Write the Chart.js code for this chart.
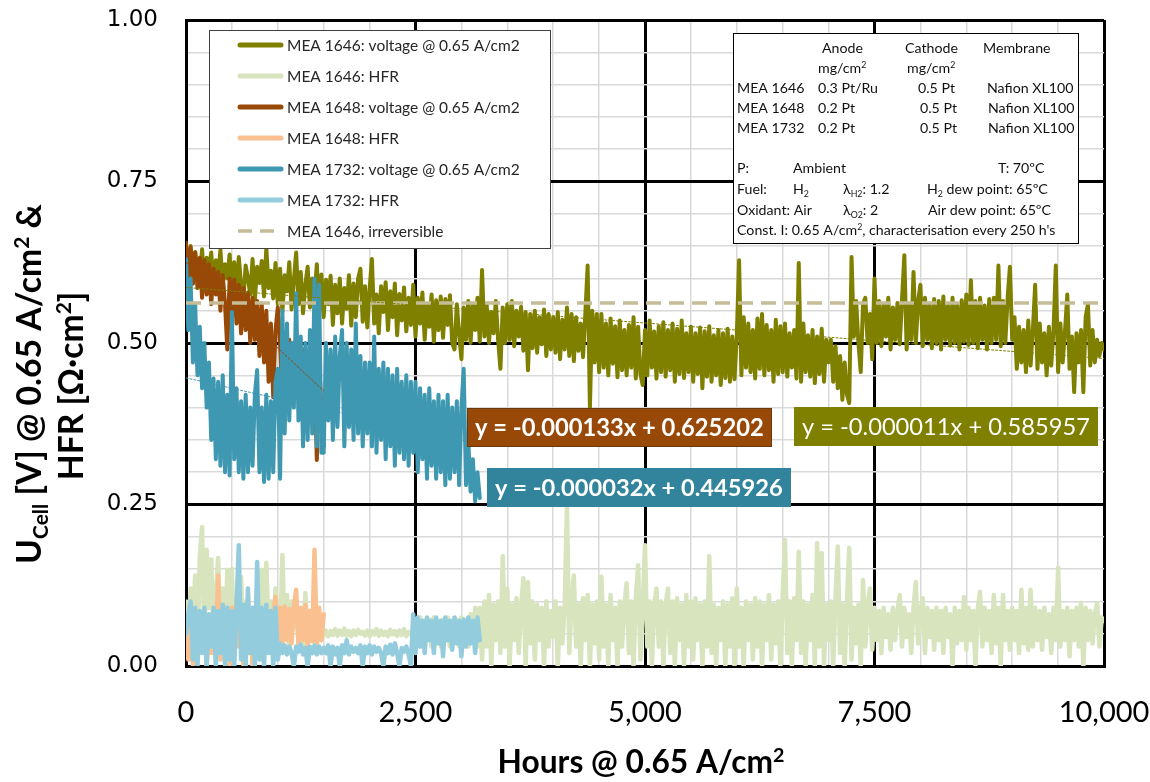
<!DOCTYPE html>
<html>
<head>
<meta charset="utf-8">
<script src="https://cdn.jsdelivr.net/npm/chart.js@4.4.1/dist/chart.umd.min.js"></script>
<style>
  html, body { margin: 0; padding: 0; background: #ffffff; }
  #wrap { position: relative; width: 1150px; height: 782px; }
  canvas { display: block; }
</style>
</head>
<body>
<div id="wrap"><canvas id="chart" width="1150" height="782"></canvas></div>
<script>
// ---- Durability log: one reading every LOG_STEP_H hours, starting at 0 h ----
const LOG_STEP_H = 25;

// MEA 1646 cell voltage [mV], 0 - 10000 h
const mea1646VoltageMv = [
  630,600,650,592,641,610,598,645,588,632,615,640,586,628,603,644,590,622,600,637,
  580,625,572,633,590,568,620,600,575,630,566,618,593,627,572,647,585,612,569,624,
  560,615,548,605,580,625,552,598,640,560,610,546,590,618,555,600,571,622,548,606,
  540,598,560,604,528,590,546,600,530,585,553,605,527,592,540,600,615,533,588,524,
  583,630,530,575,515,588,548,594,520,580,540,592,512,576,535,586,518,570,528,590,
  510,570,530,578,505,560,525,575,502,566,520,572,508,568,528,574,500,490,560,515,
  475,555,505,565,500,560,520,570,502,613,510,560,500,548,515,565,505,460,555,500,
  560,505,565,495,550,510,556,488,548,458,545,492,550,485,540,498,552,480,545,490,
  540,485,548,475,536,490,555,480,545,472,540,488,530,478,545,620,400,550,470,545,
  455,545,462,530,450,538,468,526,447,535,458,520,450,528,462,540,445,525,452,435,
  520,450,535,462,518,445,526,455,532,448,520,458,530,440,522,452,535,446,515,455,
  525,440,515,452,524,430,518,448,526,440,512,450,520,435,515,446,522,440,510,444,
  512,628,450,540,462,530,455,520,445,538,460,545,450,528,458,520,440,536,452,526,
  455,530,448,515,462,520,445,624,440,530,455,512,448,520,438,510,452,522,440,505,
  470,505,440,495,430,480,412,470,420,407,633,510,565,500,455,560,570,500,545,475,
  600,500,565,495,560,510,570,490,555,505,562,498,568,636,490,560,505,610,500,565,
  590,495,570,505,560,492,568,500,565,490,572,505,558,496,570,500,560,490,566,502,
  575,497,597,500,565,492,570,505,558,490,568,500,570,505,620,495,565,500,570,618,
  505,540,460,525,470,520,455,535,465,520,590,460,530,470,515,450,525,465,520,620,
  455,530,470,518,575,460,510,424,515,470,520,424,540,560,465,520,470,505,480,500,
  490
];

// MEA 1646 high-frequency resistance [mOhm cm2], 0 - 10000 h
const mea1646HfrMohm = [
  100,30,120,60,140,20,170,215,40,180,90,165,30,110,167,50,120,20,149,60,
  150,30,110,50,138,20,100,40,90,60,80,30,110,149,40,160,50,100,30,120,
  60,40,172,50,110,30,100,60,90,40,80,30,113,50,70,45,80,50,60,52,
  47,55,46,54,48,57,47,55,48,58,47,54,46,55,48,56,50,53,47,55,
  46,54,49,57,47,55,48,53,46,56,49,54,47,55,48,57,46,53,49,55,
  70,40,75,30,70,50,72,30,75,45,70,30,72,50,75,30,70,45,72,30,
  75,40,70,30,80,45,90,30,
  90,10,100,30,110,0,95,40,100,20,170,30,120,0,95,40,105,20,90,136,
  0,130,35,100,10,95,40,90,0,100,30,85,45,100,0,90,35,95,246,20,
  100,140,30,95,0,105,40,110,0,95,35,100,10,138,30,95,0,110,40,90,
  0,100,30,95,128,20,100,0,105,156,10,90,187,30,100,0,95,120,30,100,
  0,95,120,20,100,0,105,40,95,0,110,30,100,10,105,40,95,0,100,30,
  170,20,95,0,90,40,100,0,95,30,105,0,120,30,90,0,100,40,95,10,
  105,30,100,0,95,40,110,10,95,35,100,0,110,195,20,100,0,105,40,177,
  20,100,0,95,40,110,0,190,30,175,0,95,40,100,0,105,185,20,95,0,
  100,183,10,90,35,95,0,133,30,95,120,25,90,40,85,20,90,45,80,25,
  90,40,85,110,30,90,45,80,20,90,130,35,85,105,20,90,45,85,25,90,
  40,85,20,90,45,80,0,90,35,85,40,107,25,90,40,85,0,90,115,30,
  90,40,85,20,110,35,90,0,110,40,85,25,90,40,85,20,118,35,90,25,
  118,30,90,40,85,25,90,45,80,20,90,40,152,30,85,40,90,15,85,40,
  90,30,98,0,90,40,85,35,80,97,30,75,70
];

// MEA 1648 cell voltage [mV], 0 - 1500 h
const mea1648VoltageMv = [
  655,600,648,592,640,585,632,570,628,575,622,560,615,575,610,550,605,560,490,600,
  540,598,530,590,515,585,520,578,500,570,505,565,480,560,470,550,440,530,416,520,
  555,500,405,515,450,505,430,500,440,495,425,490,445,485,420,480,470,319,470,400,
  340
];

// MEA 1648 high-frequency resistance [mOhm cm2], 0 - 1500 h
const mea1648HfrMohm = [
  50,10,70,0,60,20,80,30,65,0,75,20,80,20,140,10,90,30,85,0,
  90,10,105,30,80,0,90,20,75,0,90,30,80,10,85,40,70,20,80,107,
  40,90,35,92,40,88,35,92,118,30,90,40,95,30,85,38,180,30,90,40,
  80
];

// MEA 1732 cell voltage [mV], 0 - 3200 h
const mea1732VoltageMv = [
  630,520,600,470,560,450,525,430,500,400,470,350,445,320,440,310,450,300,420,295,
  548,320,430,300,410,290,420,300,400,310,420,458,300,400,285,420,290,410,300,440,
  460,290,550,360,530,380,500,400,577,380,510,340,500,350,520,360,600,340,590,330,
  330,500,380,490,350,510,370,480,520,340,500,370,490,350,530,360,480,340,470,360,
  470,340,510,330,460,350,470,320,460,340,450,310,460,330,440,320,450,310,440,330,
  440,300,430,320,420,290,430,310,410,290,420,300,410,280,420,290,400,300,410,280,
  400,460,280,350,270,320,255,300,260
];

// MEA 1732 high-frequency resistance [mOhm cm2], 0 - 3200 h
const mea1732HfrMohm = [
  50,80,100,10,90,0,85,20,90,0,80,30,90,0,85,20,95,0,90,10,
  85,0,90,187,10,95,0,120,20,90,0,161,10,90,0,95,20,85,0,90,
  10,35,20,32,18,30,20,0,30,22,33,18,28,0,30,20,32,18,30,20,
  28,20,32,0,30,18,28,0,32,20,40,18,30,22,28,20,32,0,30,20,
  32,18,30,22,28,20,0,30,20,33,18,35,20,0,28,22,30,18,0,80,
  20,75,30,70,20,75,40,70,20,75,35,70,15,75,40,70,25,75,35,70,
  15,72,30,75,35,70,20,75,40
];

// Irreversible voltage level of MEA 1646 [V]
const mea1646Irreversible = 0.562;

// Linear fits of the voltage curves: [slope per h, intercept V]
const fit1646 = [-0.000011, 0.585957];
const fit1648 = [-0.000133, 0.625202];
const fit1732 = [-0.000032, 0.445926];

// Labelled axis ticks
const hourTicks = [0, 2500, 5000, 7500, 10000];
const voltTicks = [0, 0.25, 0.5, 0.75, 1];

// Legend entries
const legendLabels = [
  'MEA 1646: voltage @ 0.65 A/cm2',
  'MEA 1646: HFR',
  'MEA 1648: voltage @ 0.65 A/cm2',
  'MEA 1648: HFR',
  'MEA 1732: voltage @ 0.65 A/cm2',
  'MEA 1732: HFR',
  'MEA 1646, irreversible'
];

// ---- colours ----
const C = {
  olive: '#7f7f00', oliveLight: '#d7e4bd',
  brown: '#984807', brownLight: '#fac090',
  teal: '#3f98b1', tealLight: '#93cddd', tealBox: '#31849b',
  irreversible: '#c4bd97'
};

const LATO = 'Lato, "Open Sans", sans-serif';

// log readings (milli-units) -> {x: hours, y: base units}
const toXY = values => values.map((v, i) => ({ x: i * LOG_STEP_H, y: v / 1000 }));
const lastHour = values => (values.length - 1) * LOG_STEP_H;
const fitLine = (fit, h0, h1) => [{ x: h0, y: fit[0] * h0 + fit[1] }, { x: h1, y: fit[0] * h1 + fit[1] }];

function series(label, data, color, width, order, extra) {
  return Object.assign({
    label, data, borderColor: color, backgroundColor: color, borderWidth: width,
    pointRadius: 0, pointHoverRadius: 0, tension: 0, fill: false, order,
    borderJoinStyle: 'round', borderCapStyle: 'round'
  }, extra || {});
}

// ---- text helpers (supports sub/superscripts) ----
function runsWidth(ctx, runs, size, family, weight) {
  let w = 0;
  for (const [t, k] of runs) {
    ctx.font = `${weight} ${k ? size * 0.62 : size}px ${family}`;
    w += ctx.measureText(t).width;
  }
  return w;
}
function drawRuns(ctx, runs, x, y, size, family, weight, color, align) {
  const total = runsWidth(ctx, runs, size, family, weight);
  let cx = align === 'center' ? x - total / 2 : (align === 'right' ? x - total : x);
  ctx.fillStyle = color;
  ctx.textAlign = 'left';
  ctx.textBaseline = 'alphabetic';
  for (const [t, k] of runs) {
    ctx.font = `${weight} ${k ? size * 0.62 : size}px ${family}`;
    const dy = k === 'sub' ? size * 0.22 : (k === 'sup' ? -size * 0.36 : 0);
    ctx.fillText(t, cx, y + dy);
    cx += ctx.measureText(t).width;
  }
}
function fitSize(ctx, runs, family, weight, target) {
  return 100 * target / runsWidth(ctx, runs, 100, family, weight);
}

// ---- overlays: titles, legend, conditions table, fit equations ----
const overlays = {
  id: 'overlays',
  afterDraw(chart) {
    const ctx = chart.ctx;
    ctx.save();

    // y-axis title (two rotated lines)
    const yLine1 = [['U', ''], ['Cell', 'sub'], [' [V] @ 0.65 A/cm', ''], ['2', 'sup'], [' &', '']];
    const yLine2 = [['HFR [\u03A9\u00B7cm', ''], ['2', 'sup'], [']', '']];
    const ySize = fitSize(ctx, yLine1, LATO, 'bold', 360);
    ctx.save();
    ctx.translate(41, 384);
    ctx.rotate(-Math.PI / 2);
    drawRuns(ctx, yLine1, 0, 0, ySize, LATO, 'bold', '#000', 'center');
    ctx.restore();
    ctx.save();
    ctx.translate(83, 386);
    ctx.rotate(-Math.PI / 2);
    drawRuns(ctx, yLine2, 0, 0, ySize, LATO, 'bold', '#000', 'center');
    ctx.restore();

    // x-axis title
    const xTitle = [['Hours @ 0.65 A/cm', ''], ['2', 'sup']];
    const xSize = fitSize(ctx, xTitle, LATO, 'bold', 287);
    drawRuns(ctx, xTitle, 641, 773, xSize, LATO, 'bold', '#000', 'center');

    // legend box
    ctx.fillStyle = '#fff';
    ctx.fillRect(209, 30, 341, 218);
    ctx.strokeStyle = '#404040';
    ctx.lineWidth = 1;
    ctx.strokeRect(209.5, 30.5, 341, 218);
    const legendColors = [C.olive, C.oliveLight, C.brown, C.brownLight, C.teal, C.tealLight, C.irreversible];
    legendLabels.forEach((lab, i) => {
      const y = 45 + i * 31;
      ctx.strokeStyle = legendColors[i];
      ctx.lineCap = i === 6 ? 'butt' : 'round';
      ctx.lineWidth = i === 6 ? 3.5 : 5;
      ctx.setLineDash(i === 6 ? [14, 8] : []);
      ctx.beginPath();
      ctx.moveTo(i === 6 ? 238 : 240, y);
      ctx.lineTo(i === 6 ? 274 : 281, y);
      ctx.stroke();
      ctx.setLineDash([]);
      ctx.fillStyle = '#262626';
      ctx.font = `15.5px ${LATO}`;
      ctx.textBaseline = 'middle';
      ctx.textAlign = 'left';
      ctx.fillText(lab, 287, y + 1);
    });

    // test conditions table
    ctx.fillStyle = '#fff';
    ctx.fillRect(733, 33, 345, 210);
    ctx.strokeStyle = '#000';
    ctx.lineWidth = 1;
    ctx.strokeRect(733.5, 33.5, 345, 210);
    const fs = 14.2, tc = '#111';
    const T = (runs, x, y) => drawRuns(ctx, typeof runs === 'string' ? [[runs, '']] : runs, x, y, fs, LATO, 'normal', tc, 'left');
    T('Anode', 822, 53); T('Cathode', 905, 53); T('Membrane', 983, 53);
    T([['mg/cm', ''], ['2', 'sup']], 818, 73); T([['mg/cm', ''], ['2', 'sup']], 907, 73);
    T('MEA 1646', 737, 93); T('0.3 Pt/Ru', 818, 93); T('0.5 Pt', 918, 93); T('Nafion XL100', 987, 93);
    T('MEA 1648', 737, 113); T('0.2 Pt', 818, 113); T('0.5 Pt', 920, 113); T('Nafion XL100', 988, 113);
    T('MEA 1732', 737, 133); T('0.2 Pt', 818, 133); T('0.5 Pt', 920, 133); T('Nafion XL100', 988, 133);
    T('P:', 737, 173); T('Ambient', 793, 173); T('T: 70\u00BAC', 998, 173);
    T('Fuel:', 737, 194); T([['H', ''], ['2', 'sub']], 793, 194);
    T([['\u03BB', ''], ['H2', 'sub'], [': 1.2', '']], 843, 194);
    T([['H', ''], ['2', 'sub'], [' dew point: 65\u00BAC', '']], 927, 194);
    T('Oxidant: Air', 737, 215); T([['\u03BB', ''], ['O2', 'sub'], [': 2', '']], 843, 215);
    T('Air dew point: 65\u00BAC', 928, 215);
    T([['Const. I: 0.65 A/cm', ''], ['2', 'sup'], [", characterisation every 250 h's", '']], 737, 235);

    // fit equation labels
    const eqText = f => `y = ${f[0].toFixed(6)}x + ${f[1].toFixed(6)}`;
    const eqBox = (f, x, y, w, h, fill, weight, dotted) => {
      ctx.fillStyle = fill;
      ctx.fillRect(x, y, w, h);
      if (dotted) {
        ctx.strokeStyle = '#3a2a1a';
        ctx.lineWidth = 1;
        ctx.setLineDash([1, 1]);
        ctx.strokeRect(x + 0.5, y + 0.5, w - 1, h - 1);
        ctx.setLineDash([]);
      }
      const runs = [[eqText(f), '']];
      const s = fitSize(ctx, runs, LATO, weight, w - 16);
      drawRuns(ctx, runs, x + 8, y + h / 2 + s * 0.36, s, LATO, weight, '#fff', 'left');
    };
    eqBox(fit1648, 467, 408, 305, 39, C.brown, 'bold', true);
    eqBox(fit1646, 794, 407, 304, 39, C.olive, 'normal', false);
    eqBox(fit1732, 487, 468, 304, 39, C.tealBox, 'bold', false);

    ctx.restore();
  }
};

const isMultiple = (v, step) => Math.abs(v / step - Math.round(v / step)) < 1e-6;
const noScalePadding = s => { s.paddingLeft = 0; s.paddingRight = 0; s.paddingTop = 0; s.paddingBottom = 0; };

new Chart(document.getElementById('chart'), {
  type: 'line',
  data: {
    datasets: [
      series('MEA 1646 linear fit', fitLine(fit1646, 0, lastHour(mea1646VoltageMv)), C.olive, 1, 1, { borderDash: [2, 2] }),
      series('MEA 1648 linear fit', fitLine(fit1648, 0, lastHour(mea1648VoltageMv)), C.brown, 1, 1, { borderDash: [2, 2] }),
      series('MEA 1732 linear fit', fitLine(fit1732, 0, lastHour(mea1732VoltageMv)), C.teal, 1, 1, { borderDash: [2, 2] }),
      series(legendLabels[6], [{ x: 0, y: mea1646Irreversible }, { x: 10000, y: mea1646Irreversible }], C.irreversible, 3.5, 2,
             { borderDash: [15, 8], borderCapStyle: 'butt' }),
      series(legendLabels[5], toXY(mea1732HfrMohm), C.tealLight, 4.5, 3),
      series(legendLabels[4], toXY(mea1732VoltageMv), C.teal, 4, 4),
      series(legendLabels[3], toXY(mea1648HfrMohm), C.brownLight, 4.5, 5),
      series(legendLabels[2], toXY(mea1648VoltageMv), C.brown, 4, 6),
      series(legendLabels[1], toXY(mea1646HfrMohm), C.oliveLight, 4.5, 7),
      series(legendLabels[0], toXY(mea1646VoltageMv), C.olive, 4, 8)
    ]
  },
  options: {
    responsive: false,
    animation: false,
    devicePixelRatio: 1,
    layout: { padding: { left: 0, top: 20, right: 46, bottom: 0 } },
    plugins: { legend: { display: false }, tooltip: { enabled: false } },
    scales: {
      x: {
        type: 'linear', min: 0, max: 10000,
        afterFit: s => { s.height = 116; noScalePadding(s); },
        ticks: {
          stepSize: 500, autoSkip: false, maxRotation: 0, padding: 29,
          color: '#000', font: { family: LATO, size: 29 },
          callback: v => hourTicks.includes(v) ? v.toLocaleString('en-US') : ''
        },
        grid: {
          drawTicks: false,
          color: c => hourTicks.includes(c.tick.value) ? '#000' : '#d9d9d9',
          lineWidth: c => hourTicks.includes(c.tick.value) ? 3 : 1.5
        },
        border: { display: true, color: '#000', width: 3 }
      },
      y: {
        type: 'linear', min: 0, max: 1,
        afterFit: s => { s.width = 186; noScalePadding(s); },
        ticks: {
          stepSize: 0.05, autoSkip: false, padding: 28,
          color: '#000', font: { family: '"DejaVu Sans", sans-serif', size: 23 },
          callback: v => voltTicks.some(t => Math.abs(v - t) < 1e-6) ? v.toFixed(2) : ''
        },
        grid: {
          drawTicks: false,
          color: c => isMultiple(c.tick.value, 0.25) ? '#000' : '#d9d9d9',
          lineWidth: c => isMultiple(c.tick.value, 0.25) ? 3 : 1.5
        },
        border: { display: true, color: '#000', width: 3 }
      }
    }
  },
  plugins: [overlays]
});
</script>
</body>
</html>
